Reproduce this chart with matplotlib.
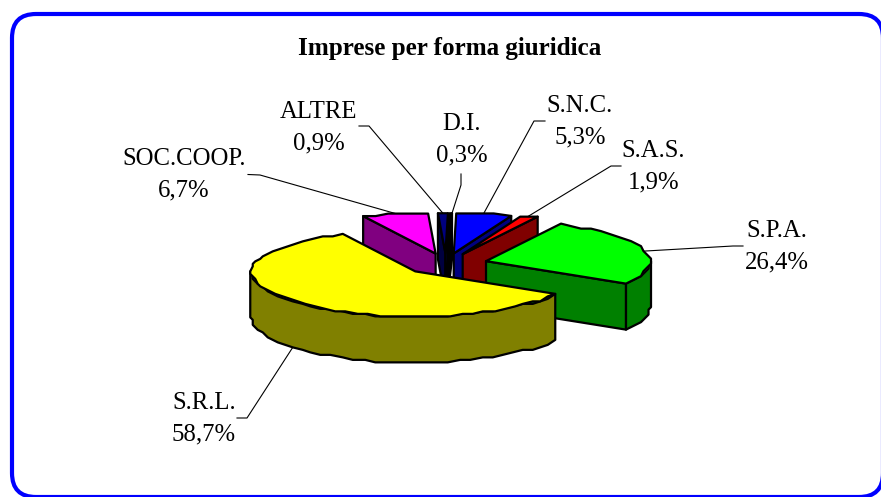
"""
Imprese per forma giuridica: exploded 3D-look pie, drawn as projected polygons.
"""

import numpy as np
import matplotlib
matplotlib.use('Agg')
import matplotlib.pyplot as plt
from matplotlib.patches import Polygon, FancyBboxPatch

plt.rcParams['font.family'] = ['Liberation Serif', 'DejaVu Serif']

# clockwise from twelve o'clock
forms = ['S.N.C.', 'S.A.S.', 'S.P.A.', 'S.R.L.', 'SOC.COOP.', 'ALTRE', 'D.I.']
shares = [5.3, 1.9, 26.4, 58.7, 6.7, 0.9, 0.3]
top_colors = ['#0000FF', '#FF0000', '#00FF00', '#FFFF00', '#FF00FF', '#000080', '#000000']
side_colors = ['#000080', '#800000', '#008000', '#808000', '#800080', '#000040', '#000000']

# pixel layout of the picture
CX, CY = 446, 264
A, B = 164, 43       # ellipse half axes
PERSP = 0.05         # back of the pie a bit flatter than the front
DEPTH = 46
EXPLODE = 0.253
START = 1.2          # first slice starts just past twelve o'clock
GRID = 2.5           # rim is snapped to this, the original is a coarse metafile
label_xy = {'S.N.C.': (580, 121.5), 'S.A.S.': (653.5, 167), 'S.P.A.': (777, 246.5), 'S.R.L.': (204, 418.5),
            'SOC.COOP.': (184, 175), 'ALTRE': (318.5, 127.5), 'D.I.': (461.5, 139.5)}
# leader elbow: outer end, then the bend
leader_ends = {'S.N.C.': [(545, 121), (534, 121)], 'S.A.S.': [(621, 166), (611, 166)],
               'S.P.A.': [(743, 246), (733, 246)], 'S.R.L.': [(237, 418), (247, 418)],
               'SOC.COOP.': [(248, 174.5), (260, 175)], 'ALTRE': [(359, 126), (369, 126)],
               'D.I.': [(461, 174), (461, 185)]}


def project(r, t):
    """r in pie radii, t in degrees clockwise from the top -> pixel x, y"""
    t = np.radians(t)
    return CX + A * r * np.sin(t), CY - B * r * np.cos(t) * (1 - PERSP * r * np.cos(t))


def rim(off, t0, t1):
    ts = np.linspace(t0, t1, max(int((t1 - t0) / 4), 2))
    x = A * np.sin(np.radians(ts))
    y = -B * np.cos(np.radians(ts)) * (1 - PERSP * np.cos(np.radians(ts)))
    x = off[0] + np.round(x / GRID) * GRID
    y = off[1] + np.round(y / GRID) * GRID
    return np.column_stack([x, y])


fig = plt.figure(figsize=(8.81, 4.97), dpi=100)
ax = fig.add_axes([0, 0, 1, 1])
ax.set_xlim(0, 881)
ax.set_ylim(497, 0)
ax.axis('off')

ax.add_patch(FancyBboxPatch((12, 14), 871, 483, boxstyle='round,pad=0,rounding_size=24',
                            fc='white', ec='#0000FF', lw=3.0, clip_on=False, zorder=0))

stops = START + np.cumsum([0] + shares) * 3.6
wedges = {}
for i, f in enumerate(forms):
    t0, t1 = stops[i], stops[i + 1]
    wedges[f] = (i, t0, t1, project(EXPLODE, (t0 + t1) / 2))

kw = dict(ec='black', lw=1.6, joinstyle='round', zorder=1)
for f in ['D.I.', 'ALTRE', 'SOC.COOP.', 'S.N.C.', 'S.A.S.', 'S.P.A.', 'S.R.L.']:
    i, t0, t1, off = wedges[f]
    pts = rim(off, t0, t1)
    apex = np.array(off)
    down = np.array([0, DEPTH])

    # cut faces that look to the viewer
    if np.sin(np.radians(t0)) < -1e-6:
        ax.add_patch(Polygon([apex, pts[0], pts[0] + down, apex + down], fc=side_colors[i], **kw))
    if np.sin(np.radians(t1)) > 1e-6:
        ax.add_patch(Polygon([apex, pts[-1], pts[-1] + down, apex + down], fc=side_colors[i], **kw))

    # outer wall, front half only
    lo, hi = max(t0, 90), min(t1, 270)
    if hi > lo:
        wall = rim(off, lo, hi)
        ax.add_patch(Polygon(np.vstack([wall, (wall + down)[::-1]]), fc=side_colors[i], **kw))

    ax.add_patch(Polygon(np.vstack([apex, pts]), fc=top_colors[i], **kw))

    # leader from the rim at mid angle, from the foot of the wall at the front
    tm = (t0 + t1) / 2
    end = rim(off, tm, tm + 0.01)[0]
    if 120 < tm < 240:
        end = end + down
    a, b = leader_ends[f]
    ax.plot([a[0], b[0], end[0]], [a[1], b[1], end[1]], color='black', lw=0.8, zorder=0.5)

    lx, ly = label_xy[f]
    pct = f'{shares[i]:.1f}'.replace('.', ',') + '%'
    ax.text(lx, ly, f'{f}\n{pct}', ha='center', va='center', fontsize=17.8, linespacing=1.58, color='black')

ax.text(450, 48.5, 'Imprese per forma giuridica', ha='center', va='center',
        fontsize=18.1, fontweight='bold', color='black')

fig.savefig('out.png', dpi=100)
